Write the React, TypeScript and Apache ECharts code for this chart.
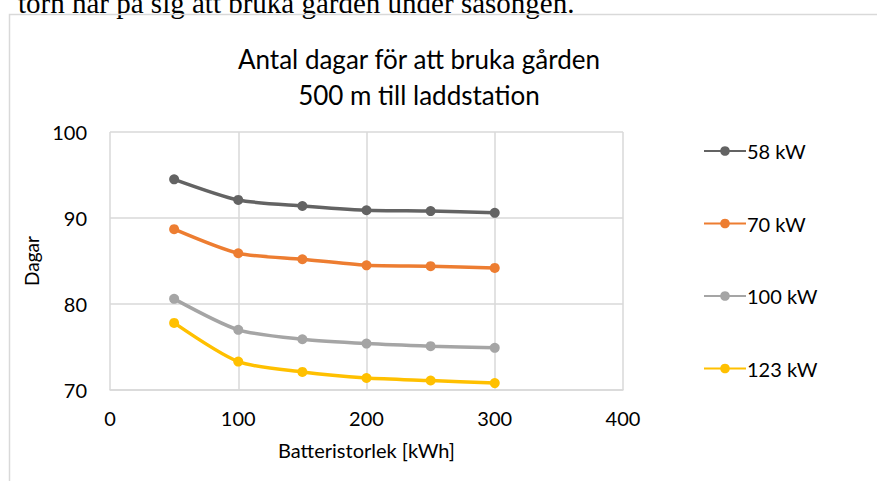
import React, { useEffect, useRef } from "react";
import * as echarts from "echarts";

const batterySizes = [50, 100, 150, 200, 250, 300];
const seriesNames = ["58 kW", "70 kW", "100 kW", "123 kW"];
const days58 = [94.5, 92.1, 91.4, 90.9, 90.8, 90.6];
const days70 = [88.7, 85.9, 85.2, 84.5, 84.4, 84.2];
const days100 = [80.6, 77.0, 75.9, 75.4, 75.1, 74.9];
const days123 = [77.8, 73.3, 72.1, 71.4, 71.1, 70.8];
const colors = ["#636363", "#ED7D31", "#A5A5A5", "#FFC000"];
const xTicks = [0, 100, 200, 300, 400];
const yTicks = [70, 80, 90, 100];

const FONT = "Lato, 'Open Sans', sans-serif";

export default function App() {
  const ref = useRef<HTMLDivElement>(null);
  useEffect(() => {
    if (!ref.current) return;
    const chart = echarts.init(ref.current, null, { renderer: "svg" });
    const allValues = [days58, days70, days100, days123];
    chart.setOption({
      animation: false,
      backgroundColor: "#ffffff",
      title: {
        text: "Antal dagar för att bruka gården\n500 m till laddstation",
        left: 414,
        textAlign: "center",
        top: 36,
        textStyle: {
          fontFamily: FONT,
          fontSize: 26,
          fontWeight: "normal",
          color: "#000000",
          lineHeight: 36,
        },
      },
      graphic: [
        {
          type: "text",
          left: 18,
          top: -12,
          style: {
            text: "torn har på sig att bruka gården under säsongen.",
            fontFamily: "'Liberation Serif', 'DejaVu Serif', serif",
            fontSize: 29,
            fill: "#000000",
          },
        },
        {
          type: "rect",
          shape: { x: 9.5, y: 14.5, width: 900, height: 500 },
          style: { fill: "none", stroke: "#D9D9D9", lineWidth: 1.5 },
          silent: true,
        },
      ],
      legend: {
        orient: "vertical",
        left: 698,
        top: 136,
        itemGap: 52.5,
        itemWidth: 42,
        itemHeight: 12,
        data: seriesNames,
        textStyle: { fontFamily: FONT, fontSize: 20, color: "#000000", padding: [0, 0, 0, -4] },
      },
      grid: { left: 110, right: 254, top: 132, bottom: 91 },
      xAxis: {
        type: "value",
        min: xTicks[0],
        max: xTicks[xTicks.length - 1],
        interval: 100,
        name: "Batteristorlek [kWh]",
        nameLocation: "middle",
        nameGap: 50,
        nameTextStyle: { fontFamily: FONT, fontSize: 20, color: "#000000" },
        axisLine: { lineStyle: { color: "#D9D9D9", width: 1.5 } },
        axisTick: { show: false },
        axisLabel: { fontFamily: FONT, fontSize: 20, color: "#000000", margin: 18 },
        splitLine: { lineStyle: { color: "#D9D9D9", width: 1.5 } },
      },
      yAxis: {
        type: "value",
        min: yTicks[0],
        max: yTicks[yTicks.length - 1],
        interval: 10,
        name: "Dagar",
        nameLocation: "middle",
        nameGap: 65,
        nameTextStyle: { fontFamily: FONT, fontSize: 19, color: "#000000" },
        axisLine: { show: false },
        axisTick: { show: false },
        axisLabel: { fontFamily: FONT, fontSize: 20, color: "#000000", margin: 23 },
        splitLine: { lineStyle: { color: "#D9D9D9", width: 1.5 } },
      },
      series: seriesNames.map((name, i) => ({
        name,
        type: "line",
        smooth: 0.25,
        symbol: "circle",
        symbolSize: 10,
        color: colors[i],
        lineStyle: { width: 3.5, color: colors[i] },
        itemStyle: { color: colors[i] },
        data: batterySizes.map((x, j) => [x, allValues[i][j]]),
      })),
    });
    return () => chart.dispose();
  }, []);
  return (
    <div
      ref={ref}
      style={{ position: "fixed", left: 0, top: 0, width: 877, height: 481 }}
    />
  );
}
